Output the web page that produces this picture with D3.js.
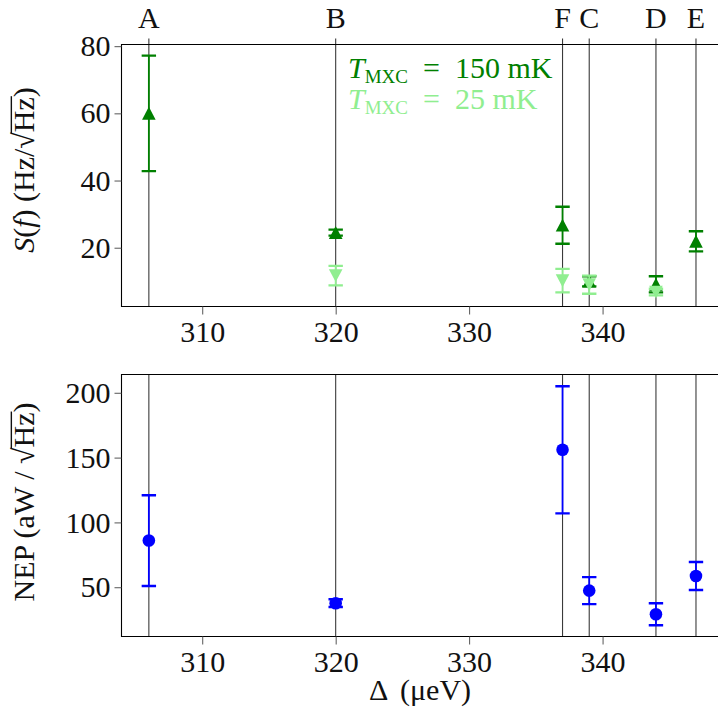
<!DOCTYPE html>
<html><head><meta charset="utf-8">
<script src="https://cdn.jsdelivr.net/npm/d3@7"></script>
<style>
body{margin:0;background:#fff}
svg{display:block}
text{font-family:"Liberation Serif","DejaVu Serif",serif}
</style>
</head><body>
<svg id="chart" width="718" height="713"></svg>
<script>
// Resonance labels and their gap energies (µeV)
const resonances = ["A", "B", "F", "C", "D", "E"];
const gapEnergies = [306, 320, 337, 339, 344, 347];

// Noise spectral density S(f) at T_MXC = 150 mK
const hotDelta = [306, 320, 337, 339, 344, 347];
const hotNoise = [60, 24.5, 26.7, 10.0, 9.1, 21.9];
const hotErr   = [17.2, 0.9, 5.5, 1.5, 2.4, 3.0];

// Noise spectral density S(f) at T_MXC = 25 mK
const coldDelta = [320, 337, 339, 344];
const coldNoise = [11.7, 10.2, 9.0, 6.8];
const coldErr   = [2.9, 3.5, 2.7, 1.0];

// Noise-equivalent power
const nepDelta = [306, 320, 337, 339, 344, 347];
const nepValue = [86, 37.7, 156, 47.4, 29.2, 58.7];
const nepErr   = [35, 3, 49, 10.4, 8.5, 10.8];

const xTicks = [310, 320, 330, 340];
const sTicks = [20, 40, 60, 80];
const nepTicks = [50, 100, 150, 200];

const DARK = "#008000", LIGHT = "#90ee90", BLUE = "#0000ff";
const FS = 30;

const svg = d3.select("#chart");

const x = d3.scaleLinear().domain([303.95, 348.8]).range([121.5, 720]);
const yS = d3.scaleLinear().domain([2.5, 80.5]).range([306.5, 44.5]);
const yN = d3.scaleLinear().domain([12, 214.1]).range([636.5, 374.5]);

function panel(y, ticks, topExt) {
  const [y0, y1] = y.range();
  const g = svg.append("g");
  // resonance guide lines
  g.selectAll("line.res").data(gapEnergies).join("line")
    .attr("x1", d => x(d)).attr("x2", d => x(d))
    .attr("y1", y1 - topExt).attr("y2", y0)
    .attr("stroke", "#3a3a3a").attr("stroke-width", 1.1);
  // frame (right side lies beyond the window)
  const xl = x.range()[0], xr = x.range()[1];
  g.append("path")
    .attr("d", `M${xr},${y1}H${xl}V${y0}H${xr}`)
    .attr("fill", "none").attr("stroke", "#000").attr("stroke-width", 1.1);
  // bottom axis
  const ax = g.append("g").attr("transform", `translate(0,${y0})`)
    .call(d3.axisBottom(x).tickValues(xTicks).tickSize(8).tickPadding(6).tickFormat(d3.format("d")));
  ax.select(".domain").remove();
  ax.selectAll("line").attr("stroke", "#555");
  ax.selectAll("text").attr("font-size", FS).attr("fill", "#111");
  // left axis
  const ay = g.append("g").attr("transform", `translate(${xl},0)`)
    .call(d3.axisLeft(y).tickValues(ticks).tickSize(7).tickPadding(4).tickFormat(d3.format("d")));
  ay.select(".domain").remove();
  ay.selectAll("line").attr("stroke", "#555");
  ay.selectAll("text").attr("font-size", FS).attr("fill", "#111");
  return g;
}

function errorBars(g, xs, vs, es, y, color) {
  const cap = 7.2;
  const eb = g.append("g").attr("stroke", color).attr("fill", "none");
  xs.forEach((d, i) => {
    const cx = x(d), top = y(vs[i] + es[i]), bot = y(vs[i] - es[i]);
    eb.append("path").attr("stroke-width", 1.8)
      .attr("d", `M${cx},${top}V${bot}`);
    eb.append("path").attr("stroke-width", 2.4)
      .attr("d", `M${cx - cap},${top}H${cx + cap}M${cx - cap},${bot}H${cx + cap}`);
  });
}

const triUp = "M0,-6.5L6.8,6.3L-6.8,6.3Z";
const triDown = "M0,6.5L6.8,-6.3L-6.8,-6.3Z";

// ---- top panel: S(f)
const gTop = panel(yS, sTicks, 6);
errorBars(gTop, hotDelta, hotNoise, hotErr, yS, DARK);
gTop.append("g").selectAll("path").data(hotDelta).join("path")
  .attr("d", triUp).attr("fill", DARK)
  .attr("transform", (d, i) => `translate(${x(d)},${yS(hotNoise[i])})`);
errorBars(gTop, coldDelta, coldNoise, coldErr, yS, LIGHT);
gTop.append("g").selectAll("path").data(coldDelta).join("path")
  .attr("d", triDown).attr("fill", LIGHT)
  .attr("transform", (d, i) => `translate(${x(d)},${yS(coldNoise[i])})`);

// resonance letters on top
svg.append("g").selectAll("text").data(resonances).join("text")
  .attr("x", (d, i) => x(gapEnergies[i])).attr("y", 27.5)
  .attr("text-anchor", "middle").attr("font-size", FS).attr("fill", "#111")
  .text(d => d);

// legend
function legendLine(yPos, label, color) {
  const t = svg.append("text").attr("y", yPos).attr("font-size", FS).attr("fill", color);
  t.append("tspan").attr("x", 348).attr("font-style", "italic").text("T");
  t.append("tspan").attr("dy", 5).attr("font-size", 19).text("MXC");
  t.append("tspan").attr("x", 423).attr("dy", -5).text("=");
  t.append("tspan").attr("x", 455).text(label);
}
legendLine(77.5, "150 mK", DARK);
legendLine(108.5, "25 mK", LIGHT);

// ---- bottom panel: NEP
const gBot = panel(yN, nepTicks, 0);
errorBars(gBot, nepDelta, nepValue, nepErr, yN, BLUE);
gBot.append("g").selectAll("circle").data(nepDelta).join("circle")
  .attr("cx", d => x(d)).attr("cy", (d, i) => yN(nepValue[i]))
  .attr("r", 6.3).attr("fill", BLUE);

// vinculum over the radicand that follows the √ sign
function addVinculum(g, text) {
  const node = text.node();
  const s = node.textContent;
  const i = s.indexOf("\u221A");
  const x0 = node.getEndPositionOfChar(i).x - 1;
  const x1 = node.getEndPositionOfChar(i + 2).x + 1;
  g.append("line").attr("x1", x0).attr("x2", x1)
    .attr("y1", -0.755 * FS).attr("y2", -0.755 * FS)
    .attr("stroke", "#111").attr("stroke-width", 1.4);
}

// axis titles
const gS = svg.append("g").attr("transform", "translate(34,170) rotate(-90)");
const ts = gS.append("text").attr("text-anchor", "middle").attr("font-size", FS).attr("fill", "#111");
ts.append("tspan").attr("font-style", "italic").text("S");
ts.append("tspan").text("(");
ts.append("tspan").attr("font-style", "italic").text("f");
ts.append("tspan").text(") (Hz/\u221AHz)");
addVinculum(gS, ts);

const gN = svg.append("g").attr("transform", "translate(34,502) rotate(-90)");
const tn = gN.append("text").attr("text-anchor", "middle").attr("font-size", FS).attr("fill", "#111")
  .text("NEP (aW / \u221AHz)");
addVinculum(gN, tn);

svg.append("text").attr("x", 420).attr("y", 700)
  .attr("text-anchor", "middle").attr("font-size", FS).attr("fill", "#111")
  .text("\u0394 \u2009(\u03BCeV)");
</script>
</body></html>
